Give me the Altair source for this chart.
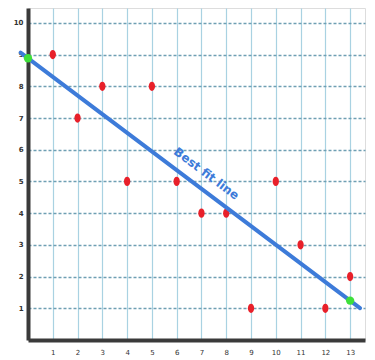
import altair as alt
import pandas as pd

# scatter data
xs = [1, 2, 3, 4, 5, 6, 7, 8, 9, 10, 11, 12, 13]
ys = [9, 7, 8, 5, 8, 5, 4, 4, 1, 5, 3, 1, 2]

x_ticks = list(range(1, 14))
y_ticks = list(range(1, 11))

line_extent = [-0.3, 13.4]
marker_extent = [0, 13]

label_text = ["Best fit line"]
label_x = [7.2]
label_y = [5.25]

df = pd.DataFrame({"x": xs, "y": ys})
lab = pd.DataFrame({"t": label_text, "x": label_x, "y": label_y})

xscale = alt.Scale(domain=[0, 13.6], nice=False, zero=False)
yscale = alt.Scale(domain=[0, 10.47], nice=False, zero=False)

xaxis = alt.Axis(values=x_ticks, tickCount=30, labelOverlap=False, title=None,
                 format="d", grid=True, gridColor="#a9d2e2",
                 gridWidth=1.2, domainColor="#3a3a3a", domainWidth=4,
                 ticks=False, labelFontSize=7, labelColor="#333",
                 labelPadding=8, labelFont="DejaVu Sans")
yaxis = alt.Axis(values=y_ticks, tickCount=30, labelOverlap=False, title=None,
                 format="d", grid=True, gridColor="#6f9fb3",
                 gridDash=[3, 2], gridWidth=1.4, domainColor="#3a3a3a",
                 domainWidth=4, ticks=False, labelFontSize=7, labelColor="#333",
                 labelPadding=5, labelFont="DejaVu Sans", labelFontWeight="bold")

base = alt.Chart(df)

points = base.mark_point(color="#e8202a", size=55, opacity=1, filled=True,
                         shape="M0,-1.25A0.85,1.25 0 1,0 0,1.25A0.85,1.25 0 1,0 0,-1.25Z").encode(
    x=alt.X("x:Q", scale=xscale, axis=xaxis),
    y=alt.Y("y:Q", scale=yscale, axis=yaxis),
)

fit = base.transform_regression("x", "y", extent=line_extent).mark_line(
    color="#3d7bd9", strokeWidth=4, strokeCap="round"
).encode(x=alt.X("x:Q", scale=xscale), y=alt.Y("y:Q", scale=yscale))

ends = base.transform_regression("x", "y", extent=marker_extent).mark_circle(
    color="#3ee03a", size=70, opacity=1
).encode(x=alt.X("x:Q", scale=xscale), y=alt.Y("y:Q", scale=yscale))

text = alt.Chart(lab).mark_text(
    color="#3d7bd9", fontSize=12, fontWeight="bold", angle=37,
    font="DejaVu Sans"
).encode(x=alt.X("x:Q", scale=xscale), y=alt.Y("y:Q", scale=yscale), text="t:N")

chart = alt.layer(points, fit, ends, text).properties(
    width=337, height=332, autosize="none",
    padding={"left": 20, "top": 0, "right": 2, "bottom": 20},
).configure_view(stroke=None).configure(background="white")

chart.save("out.html", embed_options={"renderer": "svg", "actions": False})
